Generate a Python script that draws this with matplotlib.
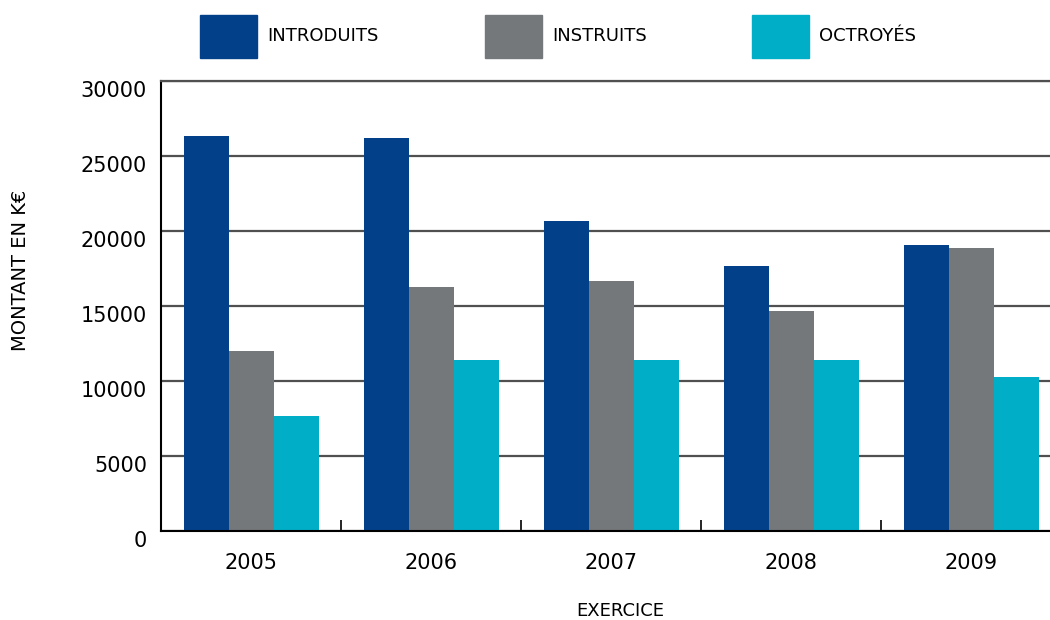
import matplotlib.pyplot as plt
from matplotlib.patches import Patch
import numpy as np

years = ["2005", "2006", "2007", "2008", "2009"]
introduits = [26300, 26200, 20650, 17700, 19100]
instruits = [12000, 16300, 16700, 14700, 18900]
octroyes = [7700, 11400, 11400, 11400, 10250]

series = ["INTRODUITS", "INSTRUITS", "OCTROYÉS"]
colors = ["#024189", "#74787b", "#00afc7"]

W, H = 1050, 620
fig = plt.figure(figsize=(W / 100, H / 100), dpi=100)
# axes runs past the right edge of the picture, like the reference
ax = fig.add_axes([161 / W, 89 / H, 900 / W, 450 / H])

x = np.arange(len(years))
w = 0.25
for i, vals in enumerate([introduits, instruits, octroyes]):
    ax.bar(x + (i - 1) * w, vals, w, color=colors[i], linewidth=0)

ax.set_xlim(-0.5, 4.5)
ax.set_ylim(0, 30000)
ax.set_yticks(range(0, 30001, 5000))
ax.yaxis.grid(True, color="#505050", linewidth=1.6)
ax.set_axisbelow(True)
ax.tick_params(axis="y", length=0, pad=10, labelsize=15)
for lab in ax.get_yticklabels():
    lab.set_va("top")

ax.set_xticks(x, years)
ax.tick_params(axis="x", which="major", length=0, pad=16, labelsize=15)
ax.set_xticks(np.arange(-0.5, 5, 1), minor=True)
ax.tick_params(axis="x", which="minor", direction="in", length=8, width=1.2, color="black")

ax.spines["right"].set_visible(False)
ax.spines["top"].set_color("#505050")
ax.spines["top"].set_linewidth(1.6)
for s in ["left", "bottom"]:
    ax.spines[s].set_color("black")
    ax.spines[s].set_linewidth(1.5)

fig.text(20 / W, 1 - 270 / H, "MONTANT EN K€", rotation=90, ha="center", va="center", fontsize=14)
fig.text(620 / W, 1 - 611 / H, "EXERCICE", ha="center", va="center", fontsize=13)

# one legend per entry so each box sits where it does in the reference
fs = 13
fs_px = fs * 100 / 72
hh = (43 / fs_px - 0.245) / 0.65   # legend patch drawn ~43 px tall
for name, col, left in zip(series, colors, [200, 485, 752]):
    fig.legend(handles=[Patch(color=col, label=name)], loc="center left",
               bbox_to_anchor=(left / W, 1 - 36 / H), frameon=False, fontsize=fs,
               handlelength=57 / fs_px, handleheight=hh, handletextpad=10 / fs_px,
               borderpad=0, borderaxespad=0)

fig.savefig("out.png", dpi=100)
